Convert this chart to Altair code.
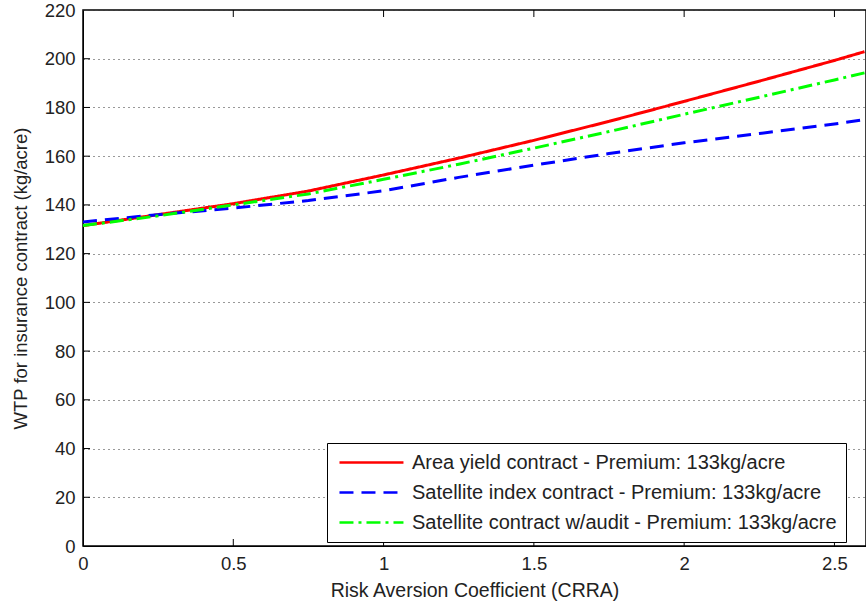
import altair as alt
import pandas as pd

# Risk aversion coefficient sample points
crra = [0.0, 0.25, 0.5, 0.75, 1.0, 1.25, 1.5, 1.75, 2.0, 2.25, 2.5, 2.6]

area_yield = [131.5, 136.0, 140.5, 145.7, 152.3, 159.2, 166.5, 174.3, 182.5, 190.8, 199.3, 202.9]
sat_index = [133.0, 136.0, 138.7, 141.8, 145.8, 151.3, 156.3, 161.1, 165.5, 169.3, 173.2, 175.0]
sat_audit = [131.5, 135.5, 140.0, 144.5, 150.5, 156.7, 163.3, 170.1, 177.2, 184.2, 191.3, 194.2]

series_names = [
    "Area yield contract - Premium: 133kg/acre",
    "Satellite index contract - Premium: 133kg/acre",
    "Satellite contract w/audit - Premium: 133kg/acre",
]
series_colors = ["#ff0000", "#0000ff", "#00ff00"]
series_dashes = [[1, 0], [14, 8], [14, 5, 3, 5]]

x_ticks = [0, 0.5, 1, 1.5, 2, 2.5]
y_ticks = list(range(0, 221, 20))

rows = []
for i, (name, vals) in enumerate(zip(series_names, [area_yield, sat_index, sat_audit])):
    for xv, yv in zip(crra, vals):
        rows.append({"x": xv, "y": yv, "series": name, "order": i})
df = pd.DataFrame(rows)

FONT = "Liberation Sans"
TXT = "#222222"
xscale = alt.Scale(domain=[0, 2.605], nice=False, zero=False)
yscale = alt.Scale(domain=[0, 220], nice=False, zero=False)

legend = alt.Legend(
    title=None,
    orient="none",
    legendX=244,
    legendY=433,
    direction="vertical",
    padding=9,
    strokeColor="black",
    fillColor="white",
    cornerRadius=0,
    labelFont=FONT,
    labelFontSize=20,
    labelColor=TXT,
    labelLimit=1000,
    labelOffset=55,
    symbolType="M-0.78,0H6.33",
    symbolSize=324,
    symbolStrokeWidth=2.5,
    rowPadding=9,
)

lines = alt.Chart(df).mark_line(strokeWidth=3, clip=True).encode(
    x=alt.X(
        "x:Q",
        scale=xscale,
        axis=alt.Axis(
            values=x_ticks,
            format="~g",
            title="Risk Aversion Coefficient (CRRA)",
            grid=False,
            ticks=False,
            tickSize=0,
            labelPadding=8,
            labelFont=FONT,
            labelFontSize=18.5,
            labelColor=TXT,
            titleFont=FONT,
            titleFontSize=19.5,
            titleFontWeight="normal",
            titleColor=TXT,
            titlePadding=9,
            domainColor="black",
            labelFlush=False,
        ),
    ),
    y=alt.Y(
        "y:Q",
        scale=yscale,
        axis=alt.Axis(
            values=y_ticks,
            title="WTP for insurance contract (kg/acre)",
            grid=True,
            gridDash=[1, 4],
            gridColor="#333333",
            gridWidth=1,
            ticks=False,
            tickSize=0,
            labelPadding=8,
            labelFont=FONT,
            labelFontSize=18.5,
            labelColor=TXT,
            titleFont=FONT,
            titleFontSize=18.5,
            titleFontWeight="normal",
            titleColor=TXT,
            titlePadding=14,
            domainColor="black",
            labelFlush=False,
        ),
    ),
    color=alt.Color("series:N", scale=alt.Scale(domain=series_names, range=series_colors), legend=legend),
    strokeDash=alt.StrokeDash("series:N", scale=alt.Scale(domain=series_names, range=series_dashes), legend=legend),
    order="order:Q",
)

xt = pd.DataFrame({"x": x_ticks[1:]})
yt = pd.DataFrame({"y": y_ticks[1:-1]})

xticks_bottom = alt.Chart(xt).mark_rule(color="black", strokeWidth=1).encode(
    x=alt.X("x:Q"), y=alt.value(536), y2=alt.value(529)
)
xticks_top = alt.Chart(xt).mark_rule(color="black", strokeWidth=1).encode(
    x=alt.X("x:Q"), y=alt.value(0), y2=alt.value(7)
)
yticks_left = alt.Chart(yt).mark_rule(color="black", strokeWidth=1).encode(
    y=alt.Y("y:Q"), x=alt.value(0), x2=alt.value(7)
)

chart = alt.layer(lines, xticks_bottom, xticks_top, yticks_left).properties(
    width=783,
    height=536,
    autosize=alt.AutoSizeParams(type="none"),
    padding={"left": 83, "top": 10, "right": 0, "bottom": 64},
    background="white",
).configure_view(stroke="black", strokeWidth=1.5)

chart.save("out.html", embed_options={"renderer": "svg", "actions": False})
